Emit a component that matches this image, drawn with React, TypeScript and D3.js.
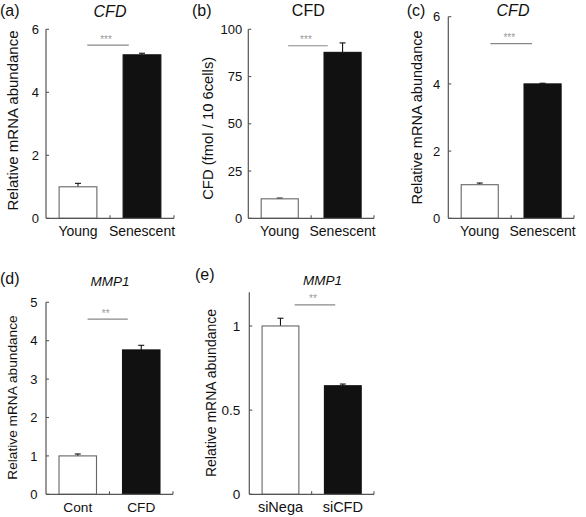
import React from "react";
import * as d3 from "d3";

// ---- data ----
const catsA = ["Young", "Senescent"];
const valsA = [1.0, 5.19];
const errA = [0.11, 0.05];
const ticksA = [0, 2, 4, 6];

const catsB = ["Young", "Senescent"];
const valsB = [10.3, 87.8];
const errB = [0.4, 5.0];
const ticksB = [0, 25, 50, 75, 100];

const catsC = ["Young", "Senescent"];
const valsC = [1.0, 4.0];
const errC = [0.05, 0.02];
const ticksC = [0, 2, 4, 6];

const catsD = ["Cont", "CFD"];
const valsD = [1.0, 3.76];
const errD = [0.05, 0.12];
const ticksD = [0, 1, 2, 3, 4, 5];

const catsE = ["siNega", "siCFD"];
const valsE = [1.0, 0.645];
const errE = [0.046, 0.01];
const ticksE = [0, 0.5, 1];

const FONT = "'Liberation Sans', Arial, Helvetica, sans-serif";

type Cfg = {
  letter: string; lx: number; ly: number;
  title: string; italic: boolean; tx: number; ty: number; tfs: number;
  x0: number; x1: number; yBase: number; yTop: number; domain: [number, number];
  ticks: number[]; cats: string[]; vals: number[]; errs: number[];
  ylabel: string; ylx: number; yly: number; ylfs: number;
  xlfs: number; xly: number; tickfs: number; tickGap: number;
  sig: string; sigV: number; sigL: number; sigR: number;
};

const panels: Cfg[] = [
  { letter: "(a)", lx: 0, ly: 15.5, title: "CFD", italic: true, tx: 110, ty: 16.5, tfs: 16,
    x0: 46, x1: 174, yBase: 218.3, yTop: 29.3, domain: [0, 6], ticks: ticksA,
    cats: catsA, vals: valsA, errs: errA,
    ylabel: "Relative mRNA abundance", ylx: 17.5, yly: 120.5, ylfs: 15,
    xlfs: 14, xly: 236, tickfs: 13, tickGap: 7, sig: "***", sigV: 5.5, sigL: 9.3, sigR: -13.2 },
  { letter: "(b)", lx: 192, ly: 15.5, title: "CFD", italic: false, tx: 308.3, ty: 16, tfs: 16,
    x0: 248.3, x1: 374, yBase: 218.3, yTop: 29.3, domain: [0, 100], ticks: ticksB,
    cats: catsB, vals: valsB, errs: errB,
    ylabel: "CFD (fmol / 10 6cells)", ylx: 212.5, yly: 128.3, ylfs: 14.8,
    xlfs: 14, xly: 235.5, tickfs: 13, tickGap: 6, sig: "***", sigV: 91.3, sigL: 8.4, sigR: -14.8 },
  { letter: "(c)", lx: 406.7, ly: 15.5, title: "CFD", italic: true, tx: 513, ty: 16, tfs: 16,
    x0: 448.3, x1: 574, yBase: 218.3, yTop: 16.7, domain: [0, 6], ticks: ticksC,
    cats: catsC, vals: valsC, errs: errC,
    ylabel: "Relative mRNA abundance", ylx: 421.5, yly: 117.5, ylfs: 14.5,
    xlfs: 14, xly: 236, tickfs: 13, tickGap: 8, sig: "***", sigV: 5.2, sigL: 10.7, sigR: -10.5 },
  { letter: "(d)", lx: 0, ly: 283.5, title: "MMP1", italic: true, tx: 110, ty: 286, tfs: 13.5,
    x0: 46, x1: 173, yBase: 494.3, yTop: 302.3, domain: [0, 5], ticks: ticksD,
    cats: catsD, vals: valsD, errs: errD,
    ylabel: "Relative mRNA abundance", ylx: 16.5, yly: 397.5, ylfs: 13.7,
    xlfs: 13.7, xly: 511.7, tickfs: 13, tickGap: 8.5, sig: "**", sigV: 4.56, sigL: 9.8, sigR: -13.5 },
  { letter: "(e)", lx: 195, ly: 280, title: "MMP1", italic: true, tx: 322.5, ty: 285, tfs: 13.5,
    x0: 249.3, x1: 374, yBase: 494.3, yTop: 292.3, domain: [0, 1.2], ticks: ticksE,
    cats: catsE, vals: valsE, errs: errE,
    ylabel: "Relative mRNA abundance", ylx: 216, yly: 393, ylfs: 14,
    xlfs: 14.5, xly: 511.7, tickfs: 13.5, tickGap: 9, sig: "**", sigV: 1.125, sigL: 14.2, sigR: -7.6 },
];

const AXIS = "#555";

function Panel({ c }: { c: Cfg }) {
  const y = d3.scaleLinear().domain(c.domain).range([c.yBase, c.yTop]);
  const x = d3.scaleBand<string>().domain(c.cats).range([c.x0, c.x1]).paddingInner(0.41).paddingOuter(0.205);
  const bw = x.bandwidth();
  const mid = (c.x0 + c.x1) / 2;
  const cx = (k: string) => (x(k) as number) + bw / 2;
  const sl = cx(c.cats[0]) + c.sigL;
  const sr = cx(c.cats[1]) + c.sigR;
  const fmt = (v: number) => String(v);
  return (
    <g fontFamily={FONT}>
      <text x={c.lx} y={c.ly} fontSize={16} fill="#111">{c.letter}</text>
      <text x={c.tx} y={c.ty} fontSize={c.tfs} textAnchor="middle" fontStyle={c.italic ? "italic" : "normal"} fill="#111">{c.title}</text>
      {/* bars */}
      {c.cats.map((k, i) => (
        <g key={k}>
          <line x1={cx(k)} x2={cx(k)} y1={y(c.vals[i])} y2={y(c.vals[i] + c.errs[i])} stroke="#111" strokeWidth={1.1} />
          <line x1={cx(k) - 3} x2={cx(k) + 3} y1={y(c.vals[i] + c.errs[i])} y2={y(c.vals[i] + c.errs[i])} stroke="#111" strokeWidth={1.1} />
          <rect x={x(k)} y={y(c.vals[i])} width={bw} height={y(0) - y(c.vals[i])}
            fill={i === 0 ? "#fff" : "#111"} stroke={i === 0 ? "#666" : "#111"} strokeWidth={1.1} />
        </g>
      ))}
      {/* y axis */}
      <line x1={c.x0} x2={c.x0} y1={y(c.domain[0])} y2={y(c.domain[1])} stroke={AXIS} strokeWidth={1.2} />
      {c.ticks.map((t) => (
        <g key={t}>
          <line x1={c.x0} x2={c.x0 + 3} y1={y(t)} y2={y(t)} stroke={AXIS} strokeWidth={1.1} />
          <text x={c.x0 - c.tickGap} y={y(t)} dy="0.36em" textAnchor="end" fontSize={c.tickfs} fill="#111">{fmt(t)}</text>
        </g>
      ))}
      {/* x axis */}
      <line x1={c.x0} x2={c.x1} y1={y(0)} y2={y(0)} stroke={AXIS} strokeWidth={1.2} />
      {[mid, c.x1].map((p, i) => (
        <line key={i} x1={p} x2={p} y1={y(0)} y2={y(0) - 3} stroke={AXIS} strokeWidth={1.1} />
      ))}
      {c.cats.map((k) => (
        <text key={k} x={cx(k)} y={c.xly} textAnchor="middle" fontSize={c.xlfs} fill="#111">{k}</text>
      ))}
      {/* y label */}
      <text transform={`translate(${c.ylx},${c.yly}) rotate(-90)`} textAnchor="middle" fontSize={c.ylfs} fill="#111">{c.ylabel}</text>
      {/* significance */}
      <line x1={sl} x2={sr} y1={y(c.sigV)} y2={y(c.sigV)} stroke="#888" strokeWidth={1.2} />
      <text x={(sl + sr) / 2 - 2} y={y(c.sigV) - 2.5} textAnchor="middle" fontSize={10} fill="#999">{c.sig}</text>
    </g>
  );
}

export default function App() {
  return (
    <svg width={586} height={517} style={{ position: "absolute", left: 0, top: 0, background: "#fff" }}>
      <rect width={586} height={517} fill="#fff" />
      {panels.map((c) => <Panel key={c.letter} c={c} />)}
    </svg>
  );
}
